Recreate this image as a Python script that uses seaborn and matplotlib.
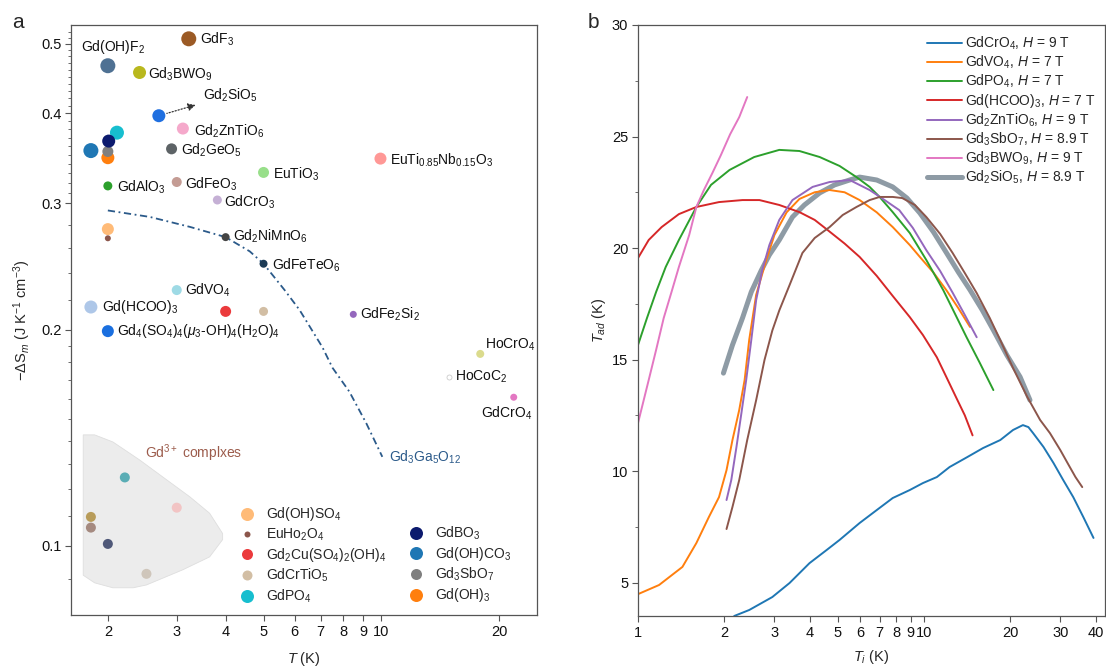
import numpy as np
import pandas as pd
import matplotlib
matplotlib.use("Agg")
import matplotlib.pyplot as plt
from matplotlib.lines import Line2D
from matplotlib.ticker import FixedLocator, FixedFormatter, NullFormatter
import seaborn as sns

sns.set_theme(style="ticks")
plt.rcParams["font.family"] = ["Liberation Sans", "DejaVu Sans"]
plt.rcParams["mathtext.fontset"] = "custom"
plt.rcParams["mathtext.rm"] = "Liberation Sans"
plt.rcParams["mathtext.it"] = "Liberation Sans:italic"
plt.rcParams["mathtext.bf"] = "Liberation Sans:bold"
plt.rcParams["mathtext.sf"] = "Liberation Sans"
plt.rcParams["axes.edgecolor"] = "#555555"
plt.rcParams["xtick.color"] = "#555555"
plt.rcParams["ytick.color"] = "#555555"
plt.rcParams["xtick.labelcolor"] = "#111111"
plt.rcParams["ytick.labelcolor"] = "#111111"

# ---------------- panel a: magnetic entropy change vs temperature ----------------
labeled_names = ["Gd(OH)F2", "GdF3", "Gd3BWO9", "Gd2SiO5", "Gd2ZnTiO6", "Gd2GeO5",
                 "GdAlO3", "GdFeO3", "GdCrO3", "EuTiO3", "EuTi0.85Nb0.15O3",
                 "Gd2NiMnO6", "GdFeTeO6", "GdVO4", "Gd(HCOO)3", "Gd4(SO4)4",
                 "GdFe2Si2", "HoCrO4", "GdCrO4"]
labeled_T = [2.0, 3.22, 2.41, 2.70, 3.11, 2.91, 2.0, 3.0, 3.81, 5.0, 9.95,
             4.0, 5.0, 3.0, 1.81, 2.0, 8.48, 17.9, 21.8]
labeled_S = [0.466, 0.508, 0.456, 0.397, 0.381, 0.357, 0.317, 0.321, 0.303, 0.331, 0.346,
             0.269, 0.247, 0.227, 0.215, 0.199, 0.210, 0.185, 0.161]

hococ2_T = [14.9]
hococ2_S = [0.172]

legend_names = ["Gd(OH)SO4", "EuHo2O4", "Gd2Cu(SO4)2(OH)4", "GdCrTiO5",
                "Gd(OH)CO3", "GdPO4", "Gd(OH)3", "Gd3SbO7", "GdBO3"]
legend_T = [2.0, 2.0, 4.0, 5.0, 1.81, 2.11, 2.0, 2.0, 2.01]
legend_S = [0.276, 0.268, 0.212, 0.212, 0.355, 0.376, 0.347, 0.354, 0.366]

complex_T = [1.81, 1.81, 2.0, 2.21, 2.51, 3.0]
complex_S = [0.1097, 0.106, 0.1006, 0.1245, 0.0914, 0.113]

ggg_T = [2.0, 2.56, 3.24, 4.0, 4.61, 5.0, 5.66, 6.18, 7.07, 7.5, 8.28, 9.16, 10.06]
ggg_S = [0.293, 0.287, 0.278, 0.269, 0.257, 0.247, 0.227, 0.213, 0.189, 0.177, 0.164, 0.148, 0.133]

region_T = [1.73, 1.85, 2.06, 2.41, 2.83, 3.24, 3.64, 3.93, 3.93, 3.64, 3.11, 2.51, 2.32,
            2.06, 1.85, 1.73]
region_S = [0.1427, 0.1427, 0.1395, 0.1317, 0.1235, 0.117, 0.111, 0.104, 0.102, 0.0965,
            0.0926, 0.0882, 0.0874, 0.0874, 0.0888, 0.091]

# ---------------- panel b: adiabatic temperature change ----------------
b_GdCrO4_T = [2.17, 2.45, 2.95, 3.39, 3.98, 4.57, 5.07, 5.96, 6.84, 7.78, 8.93, 9.92, 11.1,
              12.3, 14.2, 16.1, 18.5, 20.5, 22.2, 23.2, 24.1, 26.2, 28.4, 30.7, 33.3, 36.1, 39.2]
b_GdCrO4_Tad = [3.50, 3.77, 4.35, 4.98, 5.87, 6.46, 6.91, 7.67, 8.25, 8.79, 9.15, 9.46, 9.73,
                10.18, 10.63, 11.03, 11.39, 11.84, 12.06, 11.97, 11.70, 11.08, 10.36, 9.60,
                8.83, 7.94, 7.0]
b_GdVO4_T = [1.0, 1.185, 1.43, 1.60, 1.77, 1.92, 2.04, 2.14, 2.26, 2.36, 2.45, 2.59, 2.81,
             3.0, 3.31, 3.67, 4.15, 4.68, 5.28, 5.96, 6.84, 7.78, 8.93, 9.68, 10.8, 12.0,
             13.2, 14.5]
b_GdVO4_Tad = [4.48, 4.89, 5.70, 6.77, 7.94, 8.83, 10.04, 11.39, 12.74, 14.08, 15.9, 17.9,
               19.46, 20.58, 21.6, 22.2, 22.5, 22.6, 22.5, 22.15, 21.6, 20.94, 20.13, 19.6,
               18.9, 18.1, 17.3, 16.46]
b_GdPO4_T = [1.0, 1.075, 1.157, 1.25, 1.39, 1.60, 1.80, 2.09, 2.55, 3.12, 3.67, 4.32, 5.07,
             5.81, 6.46, 7.0, 7.78, 8.93, 10.2, 11.7, 12.8, 14.1, 15.7, 17.5]
b_GdPO4_Tad = [15.65, 16.86, 18.03, 19.15, 20.36, 21.84, 22.83, 23.5, 24.08, 24.4, 24.35,
               24.08, 23.68, 23.18, 22.74, 22.29, 21.61, 20.67, 19.46, 18.1, 17.09, 16.0,
               14.84, 13.63]
b_GdHCOO_T = [1.0, 1.09, 1.21, 1.39, 1.60, 1.92, 2.32, 2.66, 3.12, 3.67, 4.15, 4.56, 5.28,
              5.96, 6.84, 7.78, 8.93, 9.92, 11.1, 12.0, 13.0, 13.9, 14.8]
b_GdHCOO_Tad = [19.55, 20.36, 20.94, 21.52, 21.84, 22.06, 22.15, 22.15, 21.93, 21.61, 21.26,
                20.85, 20.2, 19.6, 18.75, 17.85, 16.9, 16.1, 15.1, 14.2, 13.27, 12.5, 11.6]
b_GdZnTi_T = [2.04, 2.12, 2.21, 2.30, 2.39, 2.49, 2.59, 2.72, 2.88, 3.12, 3.47, 4.08, 4.68,
              5.5, 6.46, 7.29, 8.2, 9.15, 10.2, 11.4, 12.6, 13.9, 15.3]
b_GdZnTi_Tad = [8.7, 9.6, 11.08, 12.6, 14.08, 15.87, 17.67, 19.0, 20.13, 21.26, 22.15, 22.74,
                22.96, 23.05, 22.6, 22.15, 21.7, 20.9, 19.9, 18.97, 18.0, 17.0, 16.0]
b_GdSb_T = [2.04, 2.14, 2.26, 2.41, 2.59, 2.77, 2.95, 3.12, 3.39, 3.76, 4.15, 4.68, 5.2, 5.81,
            6.46, 7.0, 7.78, 8.4, 9.3, 10.2, 11.4, 12.6, 13.9, 15.3, 17.0, 18.5, 20.5, 23.0,
            25.5, 27.6, 30.0, 31.8, 33.9, 35.8]
b_GdSb_Tad = [7.4, 8.39, 9.6, 11.39, 13.18, 14.98, 16.3, 17.2, 18.34, 19.78, 20.45, 20.94,
              21.48, 21.84, 22.15, 22.29, 22.29, 22.24, 21.93, 21.39, 20.63, 19.78, 18.88,
              17.98, 16.86, 15.87, 14.62, 13.32, 12.29, 11.7, 10.94, 10.36, 9.73, 9.28]
b_GdBW_T = [1.0, 1.09, 1.157, 1.23, 1.31, 1.39, 1.51, 1.60, 1.70, 1.82, 1.95, 2.10, 2.26, 2.41]
b_GdBW_Tad = [12.15, 14.08, 15.43, 16.86, 18.03, 19.15, 20.58, 21.84, 22.6, 23.36, 24.17,
              25.1, 25.87, 26.77]
b_GdSi_T = [1.99, 2.14, 2.32, 2.49, 2.70, 2.88, 3.12, 3.47, 3.82, 4.32, 4.87, 5.5, 5.96, 6.84,
            7.78, 8.72, 9.68, 10.8, 12.0, 13.2, 14.5, 16.0, 17.5, 19.5, 21.7, 23.5]
b_GdSi_Tad = [14.39, 15.65, 16.86, 18.03, 19.0, 19.69, 20.36, 21.39, 21.93, 22.47, 22.83,
              23.05, 23.18, 23.05, 22.74, 22.24, 21.57, 20.72, 19.78, 18.92, 18.12, 17.22,
              16.32, 15.2, 14.22, 13.18]

# ---------------- styles ----------------
point_colors = {
    "Gd(OH)F2": "#4f7193", "GdF3": "#9b5a25", "Gd3BWO9": "#b9b81e", "Gd2SiO5": "#1f6fe0",
    "Gd2ZnTiO6": "#f5a9cb", "Gd2GeO5": "#5d6366", "GdAlO3": "#2ca02c", "GdFeO3": "#c49c94",
    "GdCrO3": "#c5b0d5", "EuTiO3": "#98df8a", "EuTi0.85Nb0.15O3": "#ff9896",
    "Gd2NiMnO6": "#444444", "GdFeTeO6": "#1b3b57", "GdVO4": "#9edae5",
    "Gd(HCOO)3": "#aec7e8", "Gd4(SO4)4": "#1a6fdf", "GdFe2Si2": "#9467bd",
    "HoCrO4": "#dbdb8d", "GdCrO4": "#e377c2",
    "Gd(OH)SO4": "#ffbb78", "EuHo2O4": "#8c564b", "Gd2Cu(SO4)2(OH)4": "#eb3a3c",
    "GdCrTiO5": "#d2bea4", "Gd(OH)CO3": "#1f77b4", "GdPO4": "#17becf",
    "Gd(OH)3": "#ff7f0e", "Gd3SbO7": "#7f7f7f", "GdBO3": "#0c1a6e",
}
# marker diameters in pixels
point_diam = {
    "Gd(OH)F2": 15, "GdF3": 15, "Gd3BWO9": 13, "Gd2SiO5": 13, "Gd2ZnTiO6": 12,
    "Gd2GeO5": 11, "GdAlO3": 9, "GdFeO3": 10, "GdCrO3": 9, "EuTiO3": 11,
    "EuTi0.85Nb0.15O3": 12, "Gd2NiMnO6": 8, "GdFeTeO6": 8, "GdVO4": 10,
    "Gd(HCOO)3": 13, "Gd4(SO4)4": 12, "GdFe2Si2": 7, "HoCrO4": 8, "GdCrO4": 7,
    "Gd(OH)SO4": 12, "EuHo2O4": 6, "Gd2Cu(SO4)2(OH)4": 11, "GdCrTiO5": 9,
    "Gd(OH)CO3": 15, "GdPO4": 14, "Gd(OH)3": 13, "Gd3SbO7": 11, "GdBO3": 13,
}
complex_colors = ["#b89c5a", "#a58a80", "#4f5878", "#5aadb5", "#cfc6bb", "#f2c4c4"]

label_text = {
    "Gd(OH)F2": "Gd(OH)F$_2$", "GdF3": "GdF$_3$", "Gd3BWO9": "Gd$_3$BWO$_9$",
    "Gd2SiO5": "Gd$_2$SiO$_5$", "Gd2ZnTiO6": "Gd$_2$ZnTiO$_6$", "Gd2GeO5": "Gd$_2$GeO$_5$",
    "GdAlO3": "GdAlO$_3$", "GdFeO3": "GdFeO$_3$", "GdCrO3": "GdCrO$_3$",
    "EuTiO3": "EuTiO$_3$", "EuTi0.85Nb0.15O3": "EuTi$_{0.85}$Nb$_{0.15}$O$_3$",
    "Gd2NiMnO6": "Gd$_2$NiMnO$_6$", "GdFeTeO6": "GdFeTeO$_6$", "GdVO4": "GdVO$_4$",
    "Gd(HCOO)3": "Gd(HCOO)$_3$",
    "Gd4(SO4)4": "Gd$_4$(SO$_4$)$_4$($\\mu_3$-OH)$_4$(H$_2$O)$_4$",
    "GdFe2Si2": "GdFe$_2$Si$_2$", "HoCrO4": "HoCrO$_4$", "GdCrO4": "GdCrO$_4$",
    "Gd(OH)SO4": "Gd(OH)SO$_4$", "EuHo2O4": "EuHo$_2$O$_4$",
    "Gd2Cu(SO4)2(OH)4": "Gd$_2$Cu(SO$_4$)$_2$(OH)$_4$", "GdCrTiO5": "GdCrTiO$_5$",
    "Gd(OH)CO3": "Gd(OH)CO$_3$", "GdPO4": "GdPO$_4$", "Gd(OH)3": "Gd(OH)$_3$",
    "Gd3SbO7": "Gd$_3$SbO$_7$", "GdBO3": "GdBO$_3$",
}
# label offsets (points) and horizontal alignment
label_pos = {
    "Gd(OH)F2": (3.6, 13.7, "center"), "GdF3": (8, 0, "left"), "Gd3BWO9": (6, -1, "left"),
    "Gd2ZnTiO6": (8, -2, "left"), "Gd2GeO5": (6.5, -1, "left"),
    "GdAlO3": (6.5, -1, "left"), "GdFeO3": (6, -2, "left"), "GdCrO3": (5, -2, "left"),
    "EuTiO3": (6.5, -1, "left"), "EuTi0.85Nb0.15O3": (7, -1.5, "left"),
    "Gd2NiMnO6": (5, 0.5, "left"), "GdFeTeO6": (6, -1, "left"), "GdVO4": (6, 0, "left"),
    "Gd(HCOO)3": (8, 0, "left"), "Gd4(SO4)4": (6.5, 0, "left"),
    "GdFe2Si2": (4.5, 0, "left"), "HoCrO4": (3.5, 6.5, "left"),
    "GdCrO4": (-5, -11.5, "center"),
}

px = 0.72  # points per pixel at 100 dpi
fig = plt.figure(figsize=(11.06, 6.68), dpi=100)
ax = fig.add_axes([71 / 1106, 1 - 615 / 668, 466 / 1106, 590 / 668])
bx = fig.add_axes([638 / 1106, 1 - 616 / 668, 467 / 1106, 591 / 668])

# ---- panel a ----
ax.set_xscale("log")
ax.set_yscale("log")
ax.fill(region_T, region_S, facecolor="#ececec", edgecolor="#dedede", lw=0.6, zorder=1)

sns.lineplot(x=ggg_T, y=ggg_S, sort=False, estimator=None, ax=ax, color="#2b5a8a",
             lw=1.3, zorder=2)
ax.lines[-1].set_linestyle((0, (4, 2, 1, 2)))

df_cpx = pd.DataFrame({"T": complex_T, "S": complex_S, "k": [str(i) for i in range(len(complex_T))]})
sns.scatterplot(data=df_cpx, x="T", y="S", hue="k", palette=complex_colors, s=(10 * px) ** 2,
                linewidth=0, legend=False, ax=ax, zorder=3)

df_pts = pd.DataFrame({"T": legend_T + labeled_T, "S": legend_S + labeled_S,
                       "name": legend_names + labeled_names})
sns.scatterplot(data=df_pts, x="T", y="S", hue="name", palette=point_colors,
                size="name", sizes={k: (v * px) ** 2 for k, v in point_diam.items()},
                linewidth=0, legend=False, ax=ax, zorder=3)
sns.scatterplot(x=hococ2_T, y=hococ2_S, s=(5 * px) ** 2, color="white", edgecolor="#cccccc",
                linewidth=0.6, legend=False, ax=ax, zorder=3)

for name, T, S in zip(labeled_names, labeled_T, labeled_S):
    if name not in label_pos:
        continue
    dx, dy, ha = label_pos[name]
    ax.annotate(label_text[name], xy=(T, S), xytext=(dx, dy), textcoords="offset points",
                ha=ha, va="center", fontsize=10, color="#111111", zorder=4)

ax.annotate("HoCoC$_2$", xy=(hococ2_T[0], hococ2_S[0]), xytext=(4.5, 0),
            textcoords="offset points", ha="left", va="center", fontsize=10, color="#111111")

i_si = labeled_names.index("Gd2SiO5")
ax.annotate(label_text["Gd2SiO5"], xy=(labeled_T[i_si], labeled_S[i_si]), xytext=(31.7, 15),
            textcoords="offset points", ha="left", va="center", fontsize=10, color="#111111",
            arrowprops=dict(arrowstyle="<|-", color="#333333", lw=0.9, linestyle=(0, (1, 1.5)),
                            shrinkA=3, shrinkB=6, mutation_scale=11))

ax.annotate("Gd$_3$Ga$_5$O$_{12}$", xy=(ggg_T[-1], ggg_S[-1]), xytext=(5, 0),
            textcoords="offset points", ha="left", va="center", fontsize=10, color="#2b5a8a")
ax.text(3.31, 0.1347, "Gd$^{3+}$ complxes", ha="center", va="center", fontsize=10,
        color="#9c5c4c")

ax.set_xlim(1.61, 25.0)
ax.set_ylim(0.0801, 0.531)
xt = [2, 3, 4, 5, 6, 7, 8, 9, 10, 20]
ax.xaxis.set_major_locator(FixedLocator(xt))
ax.xaxis.set_major_formatter(FixedFormatter([str(v) for v in xt]))
ax.xaxis.set_minor_locator(FixedLocator([]))
yt = [0.1, 0.2, 0.3, 0.4, 0.5]
ax.yaxis.set_major_locator(FixedLocator(yt))
ax.yaxis.set_major_formatter(FixedFormatter([str(v) for v in yt]))
ymin = ([0.08, 0.09] + [round(0.1 + 0.01 * i, 2) for i in range(1, 10)]
        + [0.22, 0.24, 0.26, 0.28] + [round(0.3 + 0.01 * i, 2) for i in range(1, 10)]
        + [round(0.4 + 0.01 * i, 2) for i in range(1, 10)] + [0.51, 0.52])
ax.yaxis.set_minor_locator(FixedLocator(ymin))
ax.yaxis.set_minor_formatter(NullFormatter())
ax.tick_params(axis="both", which="major", direction="out", length=4, width=0.8,
               labelsize=10.5, pad=3)
ax.tick_params(axis="both", which="minor", direction="out", length=2.2, width=0.6)
ax.set_xlabel("$T$ (K)", fontsize=10.5, labelpad=8)
ax.set_ylabel("$-\\mathit{\\Delta}$S$_{m}$ (J K$^{-1}$ cm$^{-3}$)", fontsize=10.5, labelpad=6)
for sp in ax.spines.values():
    sp.set_linewidth(0.9)

leg_handles = []
leg_labels = []
col1 = ["Gd(OH)SO4", "EuHo2O4", "Gd2Cu(SO4)2(OH)4", "GdCrTiO5", "GdPO4"]
col2 = ["GdBO3", "Gd(OH)CO3", "Gd3SbO7", "Gd(OH)3"]
leg_diam = {"Gd(OH)SO4": 13, "EuHo2O4": 6, "Gd2Cu(SO4)2(OH)4": 11, "GdCrTiO5": 10,
            "GdPO4": 13, "GdBO3": 13, "Gd(OH)CO3": 13, "Gd3SbO7": 11, "Gd(OH)3": 13}
for n in col1:
    leg_handles.append(Line2D([], [], ls="", marker="o", markersize=leg_diam[n] * px,
                              color=point_colors[n], markeredgewidth=0))
    leg_labels.append(label_text[n])
leg_handles.append(Line2D([], [], ls="", marker=""))
leg_labels.append(" ")
for n in col2:
    leg_handles.append(Line2D([], [], ls="", marker="o", markersize=leg_diam[n] * px,
                              color=point_colors[n], markeredgewidth=0))
    leg_labels.append(label_text[n])
ax.legend(leg_handles, leg_labels, ncol=2, frameon=False, fontsize=10, loc="lower left",
          bbox_to_anchor=(0.335, -0.004), handlelength=1.0, handletextpad=0.9,
          columnspacing=1.6, labelspacing=0.22, borderpad=0.4)

# ---- panel b ----
curves = [
    ("Gd$_2$SiO$_5$, $H$ = 8.9 T", b_GdSi_T, b_GdSi_Tad, "#8e9ba5", 3.6),
    ("GdCrO$_4$, $H$ = 9 T", b_GdCrO4_T, b_GdCrO4_Tad, "#1f77b4", 1.4),
    ("GdVO$_4$, $H$ = 7 T", b_GdVO4_T, b_GdVO4_Tad, "#ff7f0e", 1.4),
    ("GdPO$_4$, $H$ = 7 T", b_GdPO4_T, b_GdPO4_Tad, "#2ca02c", 1.4),
    ("Gd(HCOO)$_3$, $H$ = 7 T", b_GdHCOO_T, b_GdHCOO_Tad, "#d62728", 1.4),
    ("Gd$_2$ZnTiO$_6$, $H$ = 9 T", b_GdZnTi_T, b_GdZnTi_Tad, "#9467bd", 1.4),
    ("Gd$_3$SbO$_7$, $H$ = 8.9 T", b_GdSb_T, b_GdSb_Tad, "#8c564b", 1.4),
    ("Gd$_3$BWO$_9$, $H$ = 9 T", b_GdBW_T, b_GdBW_Tad, "#e377c2", 1.4),
]
bx.set_xscale("log")
handles_b = {}
for lab, xs, ys, col, lw in curves:
    sns.lineplot(x=xs, y=ys, sort=False, estimator=None, ax=bx, color=col, lw=lw)
    bx.lines[-1].set_solid_joinstyle("round")
    bx.lines[-1].set_solid_capstyle("round")
    handles_b[lab] = Line2D([], [], color=col, lw=lw)
order = [c[0] for c in curves[1:]] + [curves[0][0]]
bx.legend([handles_b[k] for k in order], order, frameon=False, fontsize=10,
          loc="upper right", bbox_to_anchor=(1.0, 1.0), handlelength=2.5,
          handletextpad=0.2, labelspacing=0.12, borderaxespad=0.3)

bx.set_xlim(1, 43)
bx.set_ylim(3.5, 30)
xtb = [1, 2, 3, 4, 5, 6, 7, 8, 9, 10, 20, 30, 40]
bx.xaxis.set_major_locator(FixedLocator(xtb))
bx.xaxis.set_major_formatter(FixedFormatter([str(v) for v in xtb]))
bx.xaxis.set_minor_locator(FixedLocator([]))
bx.yaxis.set_major_locator(FixedLocator([5, 10, 15, 20, 25, 30]))
bx.yaxis.set_minor_locator(FixedLocator([7.5, 12.5, 17.5, 22.5, 27.5]))
bx.tick_params(axis="both", which="major", direction="out", length=4, width=0.8,
               labelsize=10.5, pad=3)
bx.tick_params(axis="both", which="minor", direction="out", length=2.2, width=0.6)
bx.set_xlabel("$T_i$ (K)", fontsize=10.5, labelpad=6)
bx.set_ylabel("$T_{ad}$ (K)", fontsize=10.5, labelpad=3)
for sp in bx.spines.values():
    sp.set_linewidth(0.9)

fig.text(0.011, 0.967, "a", fontsize=15, va="center", ha="left")
fig.text(0.531, 0.967, "b", fontsize=15, va="center", ha="left")

fig.savefig("out.png", dpi=100)
